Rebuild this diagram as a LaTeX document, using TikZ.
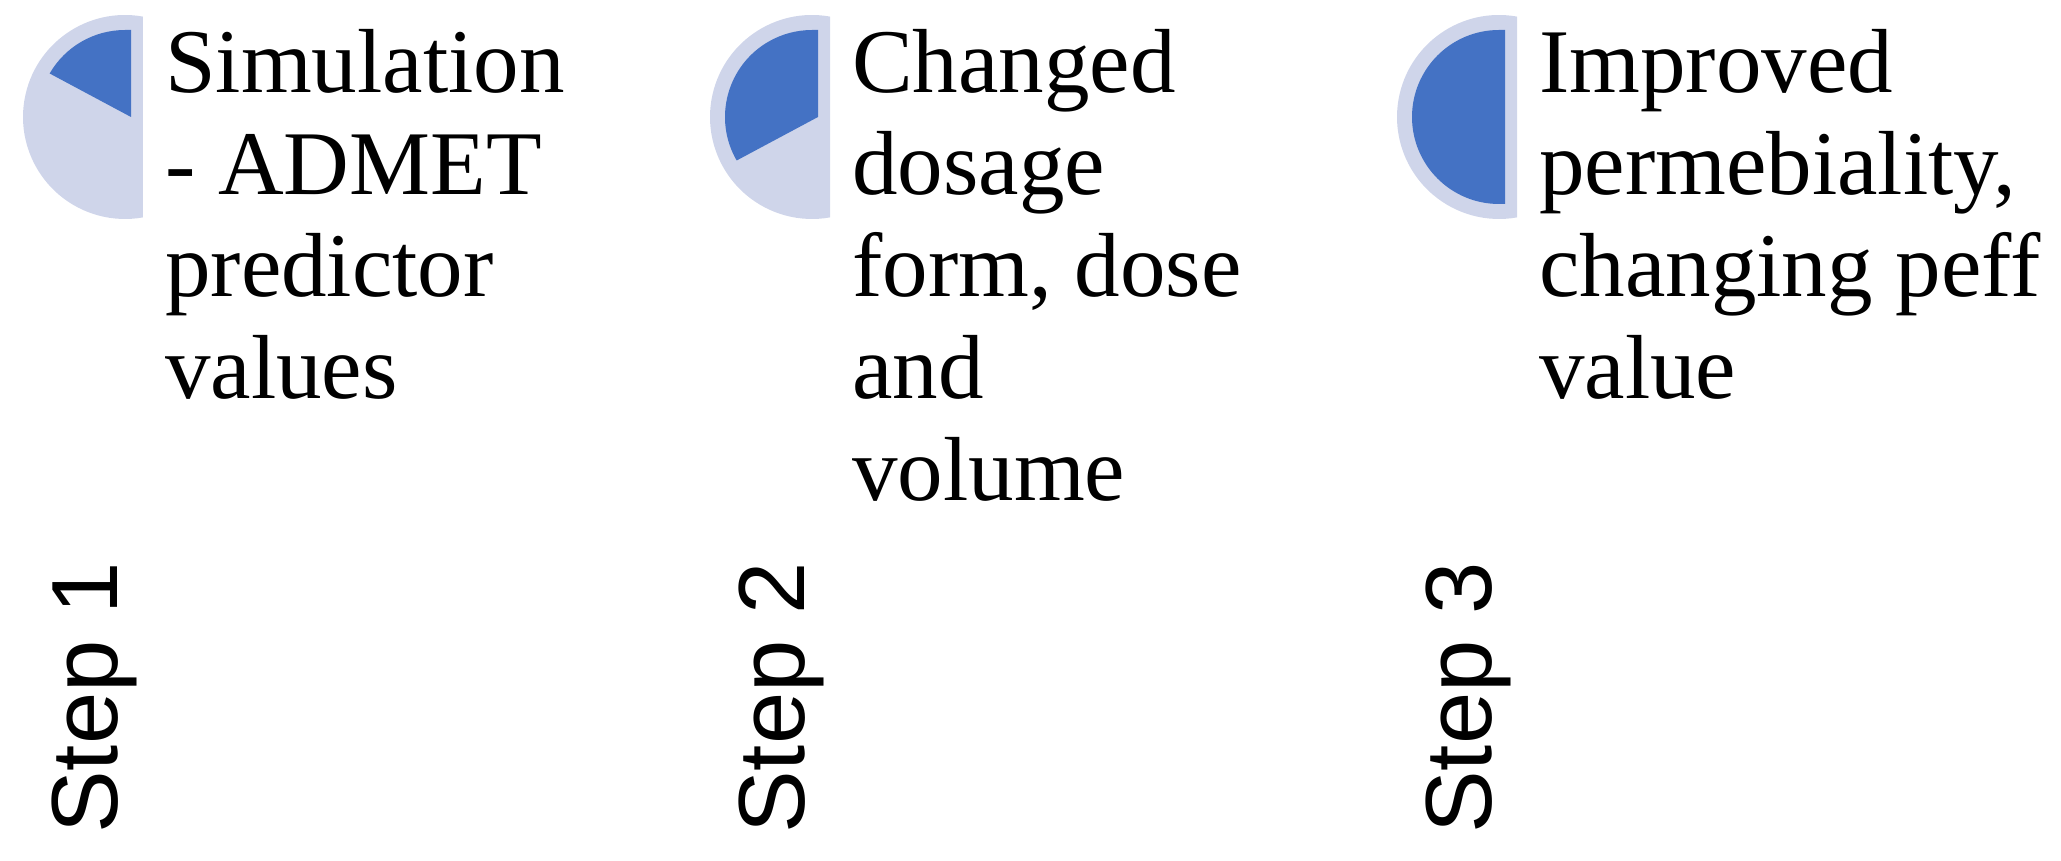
\documentclass[tikz,border=0pt]{standalone}
\usepackage{fontspec}
\setmainfont{Liberation Serif}
\setsansfont{Liberation Sans}
\definecolor{pielight}{HTML}{CFD5EA}
\definecolor{piedark}{HTML}{4472C4}
\begin{document}
\begin{tikzpicture}
[
x=1pt, y=1pt,
steptext/.style={anchor=base west, inner sep=0, align=left, font=\fontsize{91}{102}\selectfont},
steplabel/.style={rotate=90, anchor=base west, inner sep=0, font=\sffamily\fontsize{94}{110}\selectfont}
]
\useasboundingbox (0,0) rectangle (2061,860);
%Pies
\coordinate (c1) at (125,743);
\coordinate (c2) at (812,743);
\coordinate (c3) at (1499,743);
\fill[pielight] (c1) ++(79.84:102) arc[start angle=79.84, end angle=280.16, radius=102] -- cycle;
\fill[pielight] (c2) ++(79.84:102) arc[start angle=79.84, end angle=280.16, radius=102] -- cycle;
\fill[pielight] (c3) ++(79.84:102) arc[start angle=79.84, end angle=280.16, radius=102] -- cycle;
\fill[piedark] ([xshift=6]c1) -- ([shift={(150:87)}]c1) arc[start angle=150, end angle=90, radius=87] -- ++(6,0) -- cycle;
\fill[piedark] ([xshift=6]c2) -- ([shift={(210:87)}]c2) arc[start angle=210, end angle=90, radius=87] -- ++(6,0) -- cycle;
\fill[piedark] ([shift={(6,-87)}]c3) -- ([shift={(270:87)}]c3) arc[start angle=270, end angle=90, radius=87] -- ++(6,0) -- cycle;
%Nodes (anchored at the baseline of the last line)
\node[steptext] (t1) at (165,461) {Simulation\\- ADMET\\predictor\\values};
\node[steptext] (t2) at (852,359) {Changed\\dosage\\form, dose\\and\\volume};
\node[steptext] (t3) at (1539,461) {Improved\\permebiality,\\changing peff\\value};
\node[steplabel] (s1) at (117,26) {Step 1};
\node[steplabel] (s2) at (804,26) {Step 2};
\node[steplabel] (s3) at (1491,26) {Step 3};
\end{tikzpicture}
\end{document}
